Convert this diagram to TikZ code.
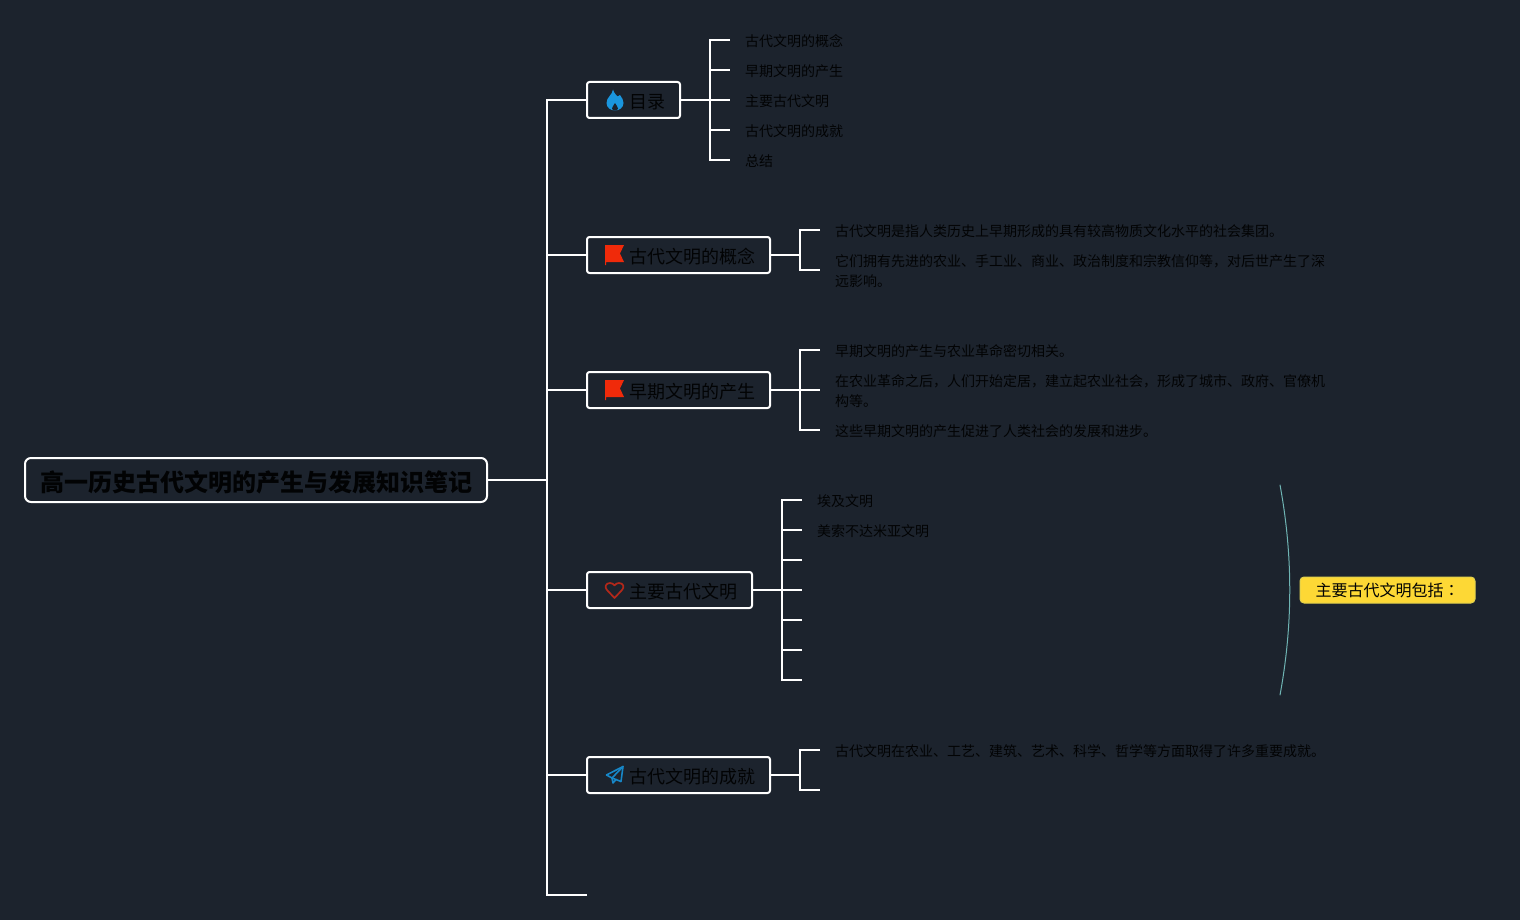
\documentclass[tikz,border=0pt]{standalone}
\usepackage{fontspec}
\setmainfont{Noto Sans CJK SC}
\newfontfamily\cjktc{Noto Sans CJK TC}
\definecolor{bgdark}{HTML}{1C232D}
\definecolor{inkdark}{HTML}{020304}
\definecolor{iconblue}{HTML}{1A96DE}
\definecolor{iconred}{HTML}{F02A0A}
\definecolor{heartred}{HTML}{B3281A}
\definecolor{arcteal}{HTML}{6FB4B4}
\definecolor{noteyellow}{HTML}{FDD835}
\newcommand{\topictext}[1]{\hspace*{28pt}#1\hspace*{1pt}}
\tikzset{
	rootbox/.style={draw=white, line width=2pt, rounded corners=6pt, text=inkdark, anchor=west, outer sep=0pt,
		minimum height=44pt, inner xsep=15pt, text height=25pt, text depth=3pt, font=\fontsize{24}{28}\selectfont\bfseries},
	topicbox/.style={draw=white, line width=2pt, rounded corners=2.5pt, text=inkdark, anchor=west, outer sep=0pt,
		minimum height=36pt, inner xsep=14pt, text height=18.8pt, text depth=2.2pt, font=\fontsize{18}{22}\selectfont},
	leaf/.style={anchor=west, align=left, text=inkdark, inner xsep=15pt, inner ysep=0pt, outer sep=0pt,
		execute at begin node={\rule{0pt}{14.3pt}}, font=\fontsize{14}{20}\selectfont},
	branch/.style={white, line width=2pt, line cap=butt, line join=miter},
	notebox/.style={draw=noteyellow!80!arcteal, fill=noteyellow, line width=1pt, rounded corners=4pt, text=inkdark,
		minimum width=175pt, minimum height=26pt, font=\fontsize{16}{20}\selectfont},
	flagicon/.pic={
		\fill[iconred] (0,-10) -- (19,-10) -- (15,-1.5) -- (19,7) -- (1.2,7) -- (1.2,10) -- (0,10) -- cycle;
	},
	flameicon/.pic={
		\fill[iconblue] (8,-10.5) .. controls (9,-7) and (11,-5) .. (12.5,-3.5)
			.. controls (13.5,-4) and (14.5,-4.5) .. (15,-5) .. controls (17,-2) and (18.5,0) .. (18.5,3)
			.. controls (18.5,7.5) and (14.5,10.5) .. (10,10.5) .. controls (5.5,10.5) and (1.5,7.5) .. (1.5,3)
			.. controls (1.5,-3) and (7.5,-5) .. (8,-10.5) -- cycle;
		\fill[bgdark] (10,3) .. controls (9,5.5) and (7,6.5) .. (7,8.5) .. controls (7,9.8) and (8.5,10.5) .. (10,10.5)
			.. controls (11.5,10.5) and (13,9.8) .. (13,8.5) .. controls (13,6.5) and (11,5.5) .. (10,3) -- cycle;
	},
	hearticon/.pic={
		\draw[heartred, line width=1.7pt, line join=round] (9.5,8) -- (2,0) .. controls (-1,-3) and (1,-7) .. (5,-7)
			.. controls (7,-7) and (8.5,-6) .. (9.5,-4.5) .. controls (10.5,-6) and (12,-7) .. (14,-7)
			.. controls (18,-7) and (20,-3) .. (17,0) -- cycle;
	},
	planeicon/.pic={
		\draw[iconblue!90!black, line width=1.6pt, line join=round] (18,-8.5) -- (1.5,0) -- (7,3) -- (16,6.5) -- cycle;
		\draw[iconblue!90!black, line width=1.6pt, line join=round] (18,-8.5) -- (7,3) -- (8,8) -- (11,4.5);
	},
}

\begin{document}
\begin{tikzpicture}[x=1pt, y=-1pt, line join=round, line cap=round]
	\useasboundingbox[fill=bgdark] (0,0) rectangle (1520,920);
	
	% --- 1. 主干坐标 ---
	\coordinate (spineTop) at (547,100);
	\coordinate (spineRoot) at (547,480);
	\coordinate (spineBottom) at (547,895);
	\coordinate (stubBottom) at (587,895);
	
	% --- 2. 中心主题与分支主题 ---
	\node[rootbox] (root) at (25,480) {高一历史古代文明的产生与发展知识笔记};
	\node[topicbox] (mulu) at (587,100) {\topictext{目录}};
	\node[topicbox] (gainian) at (587,255) {\topictext{古代文明的概念}};
	\node[topicbox] (chansheng) at (587,390) {\topictext{早期文明的产生}};
	\node[topicbox] (zhuyao) at (587,590) {\topictext{主要古代文明}};
	\node[topicbox] (chengjiu) at (587,775) {\topictext{古代文明的成就}};
	
	% 图标
	\pic at (605,100) {flameicon};
	\pic at (605,255) {flagicon};
	\pic at (605,390) {flagicon};
	\pic at (605,590) {hearticon};
	\pic at (605,775) {planeicon};
	
	% --- 3. 主干连线 ---
	\draw[branch] (root.east) -- (spineRoot);
	\draw[branch] (stubBottom) -- (spineBottom) -- (spineTop) -- (mulu.west);
	\draw[branch] (spineRoot |- gainian.west) -- (gainian.west);
	\draw[branch] (spineRoot |- chansheng.west) -- (chansheng.west);
	\draw[branch] (spineRoot |- zhuyao.west) -- (zhuyao.west);
	\draw[branch] (spineRoot |- chengjiu.west) -- (chengjiu.west);
	
	% --- 4. 目录 ---
	\coordinate (muluSpine) at (710,100);
	\node[leaf] (mulu1) at (730,40) {古代文明的概念};
	\node[leaf] (mulu2) at (730,70) {早期文明的产生};
	\node[leaf] (mulu3) at (730,100) {主要古代文明};
	\node[leaf] (mulu4) at (730,130) {古代文明的成就};
	\node[leaf] (mulu5) at (730,160) {总结};
	\draw[branch] (mulu.east) -- (mulu3.west);
	\draw[branch] (mulu1.west) -- (muluSpine |- mulu1.west) -- (muluSpine |- mulu5.west) -- (mulu5.west);
	\draw[branch] (muluSpine |- mulu2.west) -- (mulu2.west);
	\draw[branch] (muluSpine |- mulu4.west) -- (mulu4.west);
	
	% --- 5. 古代文明的概念 ---
	\coordinate (gainianSpine) at (800,255);
	\coordinate (gainianStub) at (820,270);
	\node[leaf] (gainian1) at (820,230) {古代文明是指人类历史上早期形成的具有较高物质文化水平的社会集团。};
	\node[leaf] (gainian2) at (820,271) {它们拥有先进的农业、手工业、商业、政治制度和宗教信仰等，对后世产生了深\\远影响。};
	\draw[branch] (gainian.east) -- (gainianSpine);
	\draw[branch] (gainian1.west) -- (gainianSpine |- gainian1.west) -- (gainianSpine |- gainianStub) -- (gainianStub);
	
	% --- 6. 早期文明的产生 ---
	\coordinate (chanshengSpine) at (800,390);
	\coordinate (chanshengStub) at (820,390);
	\node[leaf] (chansheng1) at (820,350) {早期文明的产生与农业革命密切相关。};
	\node[leaf] (chansheng2) at (820,391) {在农业革命之后，人们开始定居，建立起农业社会，形成了城市、政府、官僚机\\构等。};
	\node[leaf] (chansheng3) at (820,430) {这些早期文明的产生促进了人类社会的发展和进步。};
	\draw[branch] (chansheng.east) -- (chanshengStub);
	\draw[branch] (chansheng1.west) -- (chanshengSpine |- chansheng1.west) -- (chanshengSpine |- chansheng3.west) -- (chansheng3.west);
	
	% --- 7. 主要古代文明 ---
	\coordinate (zhuyaoSpine) at (782,590);
	\node[leaf] (zhuyao1) at (802,500) {埃及文明};
	\node[leaf] (zhuyao2) at (802,530) {美索不达米亚文明};
	\coordinate (zhuyao3) at (802,560);
	\coordinate (zhuyao4) at (802,590);
	\coordinate (zhuyao5) at (802,620);
	\coordinate (zhuyao6) at (802,650);
	\coordinate (zhuyao7) at (802,680);
	\draw[branch] (zhuyao.east) -- (zhuyao4);
	\draw[branch] (zhuyao1.west) -- (zhuyaoSpine |- zhuyao1.west) -- (zhuyaoSpine |- zhuyao7) -- (zhuyao7);
	\draw[branch] (zhuyao2.west) -- (zhuyaoSpine |- zhuyao2.west);
	\draw[branch] (zhuyao3) -- (zhuyaoSpine |- zhuyao3);
	\draw[branch] (zhuyao5) -- (zhuyaoSpine |- zhuyao5);
	\draw[branch] (zhuyao6) -- (zhuyaoSpine |- zhuyao6);
	
	% 概要括号与黄色标注
	\coordinate (arcTop) at (1280,485);
	\coordinate (arcBottom) at (1280,695);
	\node[notebox] (note) at (1387.5,590) {主要古代文明包括{\cjktc ：}};
	\draw[arcteal, line width=1pt] (arcTop) .. controls (1293,555) and (1293,625) .. (arcBottom);
	
	% --- 8. 古代文明的成就 ---
	\coordinate (chengjiuSpine) at (800,775);
	\node[leaf] (chengjiu1) at (820,750) {古代文明在农业、工艺、建筑、艺术、科学、哲学等方面取得了许多重要成就。};
	\coordinate (chengjiu2) at (820,790);
	\draw[branch] (chengjiu.east) -- (chengjiuSpine);
	\draw[branch] (chengjiu1.west) -- (chengjiuSpine |- chengjiu1.west) -- (chengjiuSpine |- chengjiu2) -- (chengjiu2);
	
\end{tikzpicture}
\end{document}
